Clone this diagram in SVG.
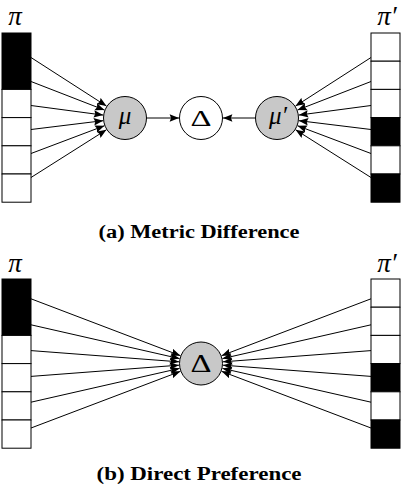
<svg xmlns="http://www.w3.org/2000/svg" width="402" height="484" viewBox="0 0 402 484">
<style>
.cell{fill:#fff;stroke:#000;stroke-width:1}
.blk{fill:#000;stroke:#000;stroke-width:1}
.node{fill:#c8c8c8;stroke:#000;stroke-width:1}
.wnode{fill:#fff;stroke:#000;stroke-width:1}
.edge{stroke:#000;stroke-width:1;fill:none;marker-end:url(#ah)}
.math{font-family:"Liberation Serif",serif;font-style:italic;fill:#000;text-anchor:middle}
.sym{font-family:"Liberation Serif",serif;fill:#000;text-anchor:middle}
.cap{font-family:"Liberation Serif",serif;font-weight:bold;font-size:18px;fill:#000;text-anchor:middle}
</style>
<defs>
<marker id="ah" viewBox="0 0 10 8" refX="10" refY="4" markerUnits="userSpaceOnUse" markerWidth="10" markerHeight="7.5" orient="auto">
<path d="M0,0 L10,4 L0,8 L1.5,4 z" fill="#000"/>
</marker>
</defs>

<!-- (a) Metric Difference -->
<g id="pi-a">
<text class="math" x="15" y="25" font-size="27">π</text>
<rect class="blk" x="2" y="33" width="29" height="56.4"/>
<rect class="cell" x="2" y="89.4" width="29" height="28.2"/>
<rect class="cell" x="2" y="117.6" width="29" height="28.2"/>
<rect class="cell" x="2" y="145.8" width="29" height="28.2"/>
<rect class="cell" x="2" y="174" width="29" height="28.2"/>
</g>
<g id="piprime-a">
<text class="math" x="387" y="25" font-size="27">π′</text>
<rect class="cell" x="371" y="33" width="29" height="28.2"/>
<rect class="cell" x="371" y="61.2" width="29" height="28.2"/>
<rect class="cell" x="371" y="89.4" width="29" height="28.2"/>
<rect class="blk" x="371" y="117.6" width="29" height="28.2"/>
<rect class="cell" x="371" y="145.8" width="29" height="28.2"/>
<rect class="blk" x="371" y="174" width="29" height="28.2"/>
</g>
<g id="mu">
<circle class="node" cx="125" cy="118" r="21.5"/>
<text class="math" x="125" y="124" font-size="25">μ</text>
</g>
<g id="delta-a">
<circle class="wnode" cx="201" cy="118" r="21.5"/>
<text class="sym" x="201" y="126" font-size="24" textLength="21" lengthAdjust="spacingAndGlyphs">Δ</text>
</g>
<g id="muprime">
<circle class="node" cx="277" cy="118" r="21.5"/>
<text class="math" x="278" y="124" font-size="25">μ′</text>
</g>
<g id="caption-a">
<text class="cap" x="199" y="238" textLength="201" lengthAdjust="spacingAndGlyphs">(a) Metric Difference</text>
</g>

<g id="connectors-a">
<line class="edge" x1="31" y1="57.5" x2="106.5" y2="106.09"/>
<line class="edge" x1="31" y1="81.5" x2="104.49" y2="110.04"/>
<line class="edge" x1="31" y1="105.5" x2="103.19" y2="115.1"/>
<line class="edge" x1="31" y1="129.5" x2="103.16" y2="120.67"/>
<line class="edge" x1="31" y1="153.5" x2="104.42" y2="125.77"/>
<line class="edge" x1="31" y1="177.5" x2="106.41" y2="129.77"/>
<line class="edge" x1="371" y1="57.5" x2="295.5" y2="106.09"/>
<line class="edge" x1="371" y1="81.5" x2="297.51" y2="110.04"/>
<line class="edge" x1="371" y1="105.5" x2="298.81" y2="115.1"/>
<line class="edge" x1="371" y1="129.5" x2="298.84" y2="120.67"/>
<line class="edge" x1="371" y1="153.5" x2="297.58" y2="125.77"/>
<line class="edge" x1="371" y1="177.5" x2="295.59" y2="129.77"/>
<line class="edge" x1="146.5" y1="118" x2="179" y2="118"/>
<line class="edge" x1="255.5" y1="118" x2="223" y2="118"/>
</g>

<!-- (b) Direct Preference -->
<g id="pi-b">
<text class="math" x="15" y="272" font-size="27">π</text>
<rect class="blk" x="2" y="279" width="29" height="56.4"/>
<rect class="cell" x="2" y="335.4" width="29" height="28.2"/>
<rect class="cell" x="2" y="363.6" width="29" height="28.2"/>
<rect class="cell" x="2" y="391.8" width="29" height="28.2"/>
<rect class="cell" x="2" y="420" width="29" height="28.2"/>
</g>
<g id="piprime-b">
<text class="math" x="387" y="272" font-size="27">π′</text>
<rect class="cell" x="371" y="279" width="29" height="28.2"/>
<rect class="cell" x="371" y="307.2" width="29" height="28.2"/>
<rect class="cell" x="371" y="335.4" width="29" height="28.2"/>
<rect class="blk" x="371" y="363.6" width="29" height="28.2"/>
<rect class="cell" x="371" y="391.8" width="29" height="28.2"/>
<rect class="blk" x="371" y="420" width="29" height="28.2"/>
</g>
<g id="delta-b">
<circle class="node" cx="201" cy="363.5" r="21.5"/>
<text class="sym" x="201" y="372" font-size="25" textLength="21" lengthAdjust="spacingAndGlyphs">Δ</text>
</g>
<g id="caption-b">
<text class="cap" x="199" y="480" textLength="205" lengthAdjust="spacingAndGlyphs">(b) Direct Preference</text>
</g>

<g id="connectors-b">
<line class="edge" x1="31" y1="298.8" x2="180.44" y2="355.66"/>
<line class="edge" x1="31" y1="324.8" x2="179.55" y2="358.61"/>
<line class="edge" x1="31" y1="350.6" x2="179.06" y2="361.83"/>
<line class="edge" x1="31" y1="376.4" x2="179.06" y2="365.17"/>
<line class="edge" x1="31" y1="402.2" x2="179.55" y2="368.39"/>
<line class="edge" x1="31" y1="428" x2="180.44" y2="371.34"/>
<line class="edge" x1="371" y1="298.8" x2="221.56" y2="355.66"/>
<line class="edge" x1="371" y1="324.8" x2="222.45" y2="358.61"/>
<line class="edge" x1="371" y1="350.6" x2="222.94" y2="361.83"/>
<line class="edge" x1="371" y1="376.4" x2="222.94" y2="365.17"/>
<line class="edge" x1="371" y1="402.2" x2="222.45" y2="368.39"/>
<line class="edge" x1="371" y1="428" x2="221.56" y2="371.34"/>
</g>
</svg>
